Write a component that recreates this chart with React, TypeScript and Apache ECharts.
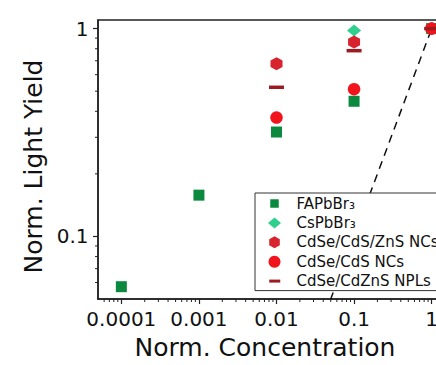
import React, { useEffect, useRef } from "react";
import * as echarts from "echarts";

// ---- data ----
const faPbBr3: [number, number][] = [
  [0.0001, 0.0573],
  [0.001, 0.158],
  [0.01, 0.318],
  [0.1, 0.447],
  [1, 1],
];
const csPbBr3: [number, number][] = [
  [0.1, 0.979],
  [1, 1],
];
const cdSeCdSZnS: [number, number][] = [
  [0.01, 0.678],
  [0.1, 0.862],
  [1, 1],
];
const cdSeCdS: [number, number][] = [
  [0.01, 0.373],
  [0.1, 0.511],
  [1, 1],
];
const cdSeCdZnS: [number, number][] = [
  [0.01, 0.522],
  [0.1, 0.783],
  [1, 1],
];
// reference line y = x
const guideLine: [number, number][] = [
  [0.01, 0.01],
  [1, 1],
];

const seriesNames = [
  "FAPbBr₃",
  "CsPbBr₃",
  "CdSe/CdS/ZnS NCs",
  "CdSe/CdS NCs",
  "CdSe/CdZnS NPLs",
];

// axis extents and tick positions
const X_MIN = 0.00005;
const X_MAX = 2;
const Y_MIN = 0.05;
const Y_MAX = 1.1;
const xDecades = [0.00001, 0.0001, 0.001, 0.01, 0.1, 1];
const yDecades = [0.01, 0.1, 1];
const minorMultipliers = [2, 3, 4, 5, 6, 7, 8, 9];

const FONT = "DejaVu Sans";
const AXIS_COLOR = "#222";
const TEXT_COLOR = "#111";

const HEX_PATH = "path://M5.3,0L10.6,3L10.6,9L5.3,12L0,9L0,3Z";

function minorTicks(decades: number[], lo: number, hi: number): number[] {
  const out: number[] = [];
  decades.forEach((d) => {
    minorMultipliers.forEach((m) => {
      const v = +(d * m).toPrecision(6);
      if (v > lo && v < hi) out.push(v);
    });
  });
  return out;
}

const fmt = (v: number) => String(Number(Number(v).toPrecision(3)));

export default function App() {
  const ref = useRef<HTMLDivElement>(null);

  useEffect(() => {
    if (!ref.current) return;
    const chart = echarts.init(ref.current, undefined, { renderer: "svg" });

    const xMinor = minorTicks(xDecades, X_MIN, X_MAX).map((v) => [v, Y_MIN]);
    const yMinor = minorTicks(yDecades, Y_MIN, Y_MAX).map((v) => [X_MIN, v]);

    const scatterBase = {
      type: "scatter",
      z: 3,
      emphasis: { disabled: true },
    };

    const option: any = {
      animation: false,
      textStyle: { fontFamily: FONT },
      grid: {
        left: 98,
        top: 20,
        width: 357,
        height: 279,
        show: true,
        borderColor: AXIS_COLOR,
        borderWidth: 1.5,
        backgroundColor: "transparent",
      },
      legend: {
        orient: "vertical",
        left: 255,
        top: 193,
        itemWidth: 34,
        itemHeight: 12,
        itemGap: 4.4,
        symbolKeepAspect: true,
        padding: [3, 10, 2, 13],
        backgroundColor: "#fff",
        borderColor: "#333",
        borderWidth: 1,
        textStyle: { fontFamily: FONT, fontSize: 15, color: TEXT_COLOR },
        selectedMode: false,
        data: [
          { name: seriesNames[0], icon: "path://M0,0L0,0M12,12L12,12M1.75,1.75H10.25V10.25H1.75Z" },
          { name: seriesNames[1], icon: "path://M0,0L0,0M0,12L0,12M0,6L6.5,0.5L13,6L6.5,11.5Z" },
          { name: seriesNames[2], icon: "path://M5.3,0L10.6,3L10.6,9L5.3,12L0,9L0,3Z" },
          { name: seriesNames[3], icon: "circle" },
          { name: seriesNames[4], icon: "path://M0,0L0,0M0,12L0,12M0.5,4.5H11.5V7.5H0.5Z" },
        ],
      },
      xAxis: {
        type: "log",
        logBase: 10,
        min: X_MIN,
        max: X_MAX,
        axisLine: { show: true, onZero: false, lineStyle: { color: AXIS_COLOR, width: 1.5 } },
        axisTick: { show: true, inside: false, length: 5, lineStyle: { color: AXIS_COLOR, width: 1.2 } },
        minorTick: { show: false },
        splitLine: { show: false },
        axisLabel: {
          fontFamily: FONT,
          fontSize: 20,
          color: TEXT_COLOR,
          margin: 10,
          showMinLabel: false,
          showMaxLabel: false,
          formatter: fmt,
        },
        name: "Norm. Concentration",
        nameLocation: "middle",
        nameGap: 36,
        nameTextStyle: { fontFamily: FONT, fontSize: 25, color: TEXT_COLOR, padding: [0, 23, 0, 0] },
      },
      yAxis: {
        type: "log",
        logBase: 10,
        min: Y_MIN,
        max: Y_MAX,
        axisLine: { show: true, onZero: false, lineStyle: { color: AXIS_COLOR, width: 1.5 } },
        axisTick: { show: true, inside: false, length: 5, lineStyle: { color: AXIS_COLOR, width: 1.2 } },
        minorTick: { show: false },
        splitLine: { show: false },
        axisLabel: {
          fontFamily: FONT,
          fontSize: 20,
          color: TEXT_COLOR,
          margin: 9.5,
          showMinLabel: false,
          showMaxLabel: false,
          formatter: fmt,
        },
        name: "Norm. Light Yield",
        nameLocation: "middle",
        nameGap: 50,
        nameTextStyle: { fontFamily: FONT, fontSize: 25, color: TEXT_COLOR, padding: [0, 14, 0, 0] },
      },
      series: [
        {
          type: "custom",
          name: "xMinorTicks",
          silent: true,
          clip: false,
          data: xMinor,
          renderItem: (_p: any, api: any) => {
            const pt = api.coord([api.value(0), api.value(1)]);
            return {
              type: "line",
              shape: { x1: pt[0], y1: pt[1], x2: pt[0], y2: pt[1] + 3 },
              style: { stroke: AXIS_COLOR, lineWidth: 1 },
            };
          },
        },
        {
          type: "custom",
          name: "yMinorTicks",
          silent: true,
          clip: false,
          data: yMinor,
          renderItem: (_p: any, api: any) => {
            const pt = api.coord([api.value(0), api.value(1)]);
            return {
              type: "line",
              shape: { x1: pt[0], y1: pt[1], x2: pt[0] - 3, y2: pt[1] },
              style: { stroke: AXIS_COLOR, lineWidth: 1 },
            };
          },
        },
        {
          type: "line",
          name: "guide",
          data: guideLine,
          symbol: "none",
          silent: true,
          z: 1,
          lineStyle: { color: "#111", width: 1.5, type: [8, 6] },
        },
        {
          ...scatterBase,
          name: seriesNames[0],
          symbol: "rect",
          symbolSize: 11,
          itemStyle: { color: "#0b8a3f", opacity: 1 },
          data: faPbBr3,
        },
        {
          ...scatterBase,
          name: seriesNames[1],
          symbol: "diamond",
          symbolSize: [14, 12],
          itemStyle: { color: "#2fcf8e", opacity: 1 },
          data: csPbBr3,
        },
        {
          ...scatterBase,
          name: seriesNames[2],
          symbol: HEX_PATH,
          symbolSize: [12, 13],
          itemStyle: { color: "#d8232e", opacity: 1 },
          data: cdSeCdSZnS,
        },
        {
          ...scatterBase,
          name: seriesNames[3],
          symbol: "circle",
          symbolSize: 12.5,
          itemStyle: { color: "#f2141c", opacity: 1 },
          data: cdSeCdS,
        },
        {
          ...scatterBase,
          name: seriesNames[4],
          symbol: "rect",
          symbolSize: [15, 3.5],
          itemStyle: { color: "#9c1c22", opacity: 1 },
          data: cdSeCdZnS,
        },
      ],
    };

    chart.setOption(option);
    return () => chart.dispose();
  }, []);

  return (
    <div
      style={{
        position: "fixed",
        left: 0,
        top: 0,
        width: 436,
        height: 365,
        overflow: "hidden",
        background: "#fff",
      }}
    >
      <div ref={ref} style={{ width: 480, height: 365 }} />
    </div>
  );
}
